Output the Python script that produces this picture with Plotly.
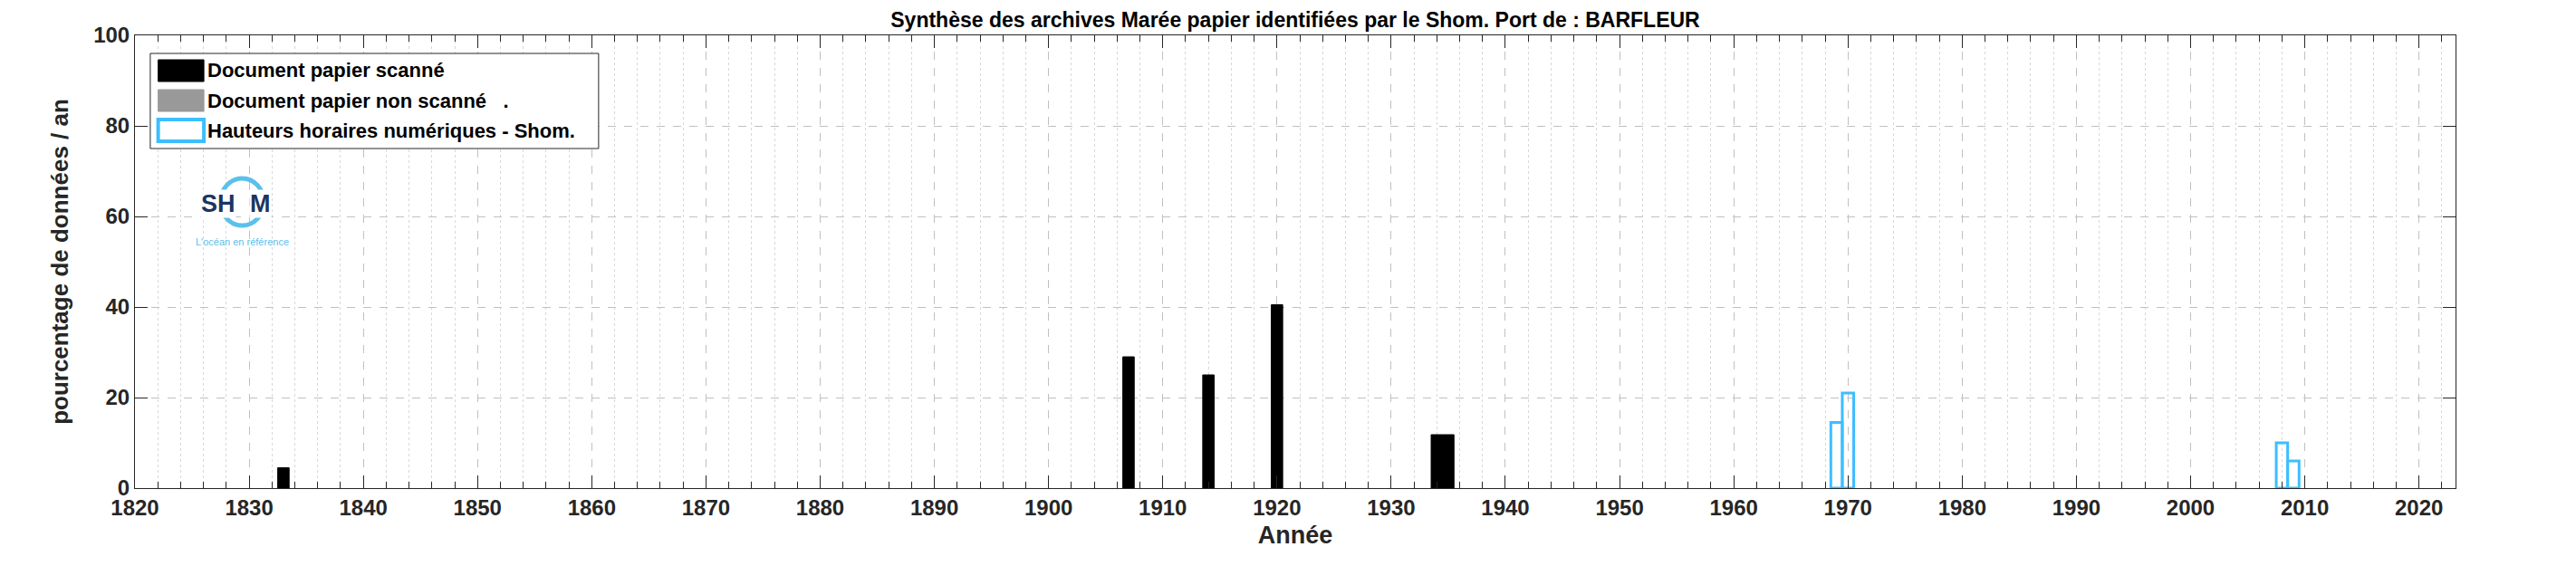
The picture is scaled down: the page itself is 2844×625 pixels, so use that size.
import plotly.graph_objects as go

scan_years = [1833, 1907, 1914, 1920, 1934, 1935]
scan_vals = [4.5, 29, 25, 40.5, 11.8, 11.8]
nonscan_years = []
nonscan_vals = []
num_years = [1969, 1970, 2008, 2009]
num_vals = [14.5, 21, 10, 6]
legend_labels = ["Document papier scanné", "Document papier non scanné   .", "Hauteurs horaires numériques - Shom."]

F = "Liberation Sans"
TC = "#262626"
fig = go.Figure()
fig.add_bar(x=scan_years, y=scan_vals, width=1, marker=dict(color="black", line=dict(color="black", width=1)))
fig.add_bar(x=nonscan_years, y=nonscan_vals, width=1, marker=dict(color="#999999"))
fig.add_bar(x=num_years, y=num_vals, width=1, marker=dict(color="rgba(0,0,0,0)", line=dict(color="#3DBEFF", width=3)))

axis_common = dict(showline=True, linecolor=TC, linewidth=1, mirror="ticks", ticks="inside",
                   tickcolor=TC, tickfont=dict(family=F, size=24, color=TC),
                   showgrid=True, gridcolor="#c0c0c0", griddash="dash", gridwidth=1, zeroline=False)
fig.update_xaxes(**axis_common, range=[1820, 2023.2], tick0=1820, dtick=10, ticklen=14,
                 minor=dict(dtick=2, tick0=1820, ticks="inside", ticklen=7, tickcolor=TC, showgrid=True,
                            gridcolor="#d8d8d8", griddash="dot"),
                 title=dict(text="<b>Année</b>", font=dict(family=F, size=27, color=TC), standoff=8))
fig.update_yaxes(**axis_common, range=[0, 100], dtick=20, ticklen=14,
                 title=dict(text="<b>pourcentage de données / an</b>", font=dict(family=F, size=26, color=TC), standoff=20))
fig.update_xaxes(tickprefix="<b>", ticksuffix="</b>")
fig.update_yaxes(tickprefix="<b>", ticksuffix="</b>")

fig.update_layout(
    width=2844, height=625, barmode="overlay", plot_bgcolor="white", paper_bgcolor="white",
    margin=dict(l=141, r=141, t=31, b=94), showlegend=False,
    title=dict(text="<b>Synthèse des archives Marée papier identifiées par le Shom. Port de : BARFLEUR</b>",
               x=0.5, xanchor="center", y=0.978, yanchor="middle", font=dict(family=F, size=23, color="black")),
)
# manual legend
fig.add_shape(type="rect", xref="paper", yref="paper", x0=0.0066, x1=0.1998, y0=0.750, y1=0.960,
              line=dict(color=TC, width=1), fillcolor="white", layer="above")
rows = [0.922, 0.856, 0.790]
sw = [dict(fillcolor="black", line=dict(color="black", width=1)),
      dict(fillcolor="#999999", line=dict(color="#999999", width=1)),
      dict(fillcolor="white", line=dict(color="#3DBEFF", width=4))]
for yc, s, lab in zip(rows, sw, legend_labels):
    fig.add_shape(type="rect", xref="paper", yref="paper", x0=0.0100, x1=0.0297, y0=yc - 0.024, y1=yc + 0.024,
                  layer="above", **s)
    fig.add_annotation(xref="paper", yref="paper", x=0.0305, y=yc, xanchor="left", yanchor="middle",
                       text="<b>" + lab + "</b>", showarrow=False, font=dict(family=F, size=22, color="black"))
# logo
fig.add_shape(type="circle", xref="paper", yref="paper", xsizemode="pixel", ysizemode="pixel",
              xanchor=0.0462, yanchor=0.632, x0=-24, x1=24, y0=-26, y1=26,
              line=dict(color="#5BC0EB", width=5))
fig.add_annotation(xref="paper", yref="paper", x=0.0438, y=0.628, xanchor="right", text="<b>SH</b>", showarrow=False,
                   font=dict(family=F, size=27, color="#1A3562"), bgcolor="white", borderpad=0)
fig.add_annotation(xref="paper", yref="paper", x=0.0490, y=0.628, xanchor="left", text="<b>M</b>", showarrow=False,
                   font=dict(family=F, size=27, color="#1A3562"), bgcolor="white", borderpad=0)
fig.add_annotation(xref="paper", yref="paper", x=0.0462, y=0.544, xanchor="center", text="L'océan en référence",
                   showarrow=False, font=dict(family=F, size=11, color="#5BC0EB"))
fig.write_html("out.html")
